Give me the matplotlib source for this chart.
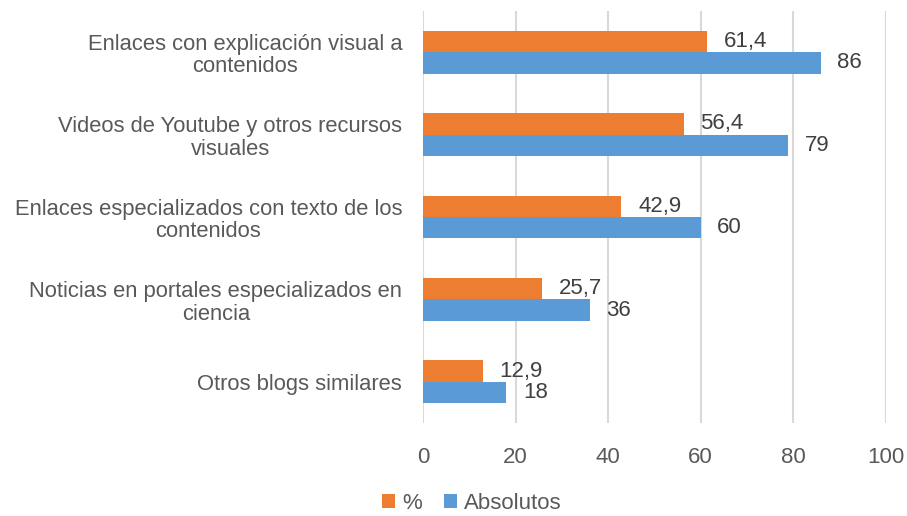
import numpy as np
import matplotlib.pyplot as plt

categorias = [
    "Enlaces con explicación visual a\ncontenidos",
    "Videos de Youtube y otros recursos\nvisuales",
    "Enlaces especializados con texto de los\ncontenidos",
    "Noticias en portales especializados en\nciencia",
    "Otros blogs similares",
]
porcentaje = [61.4, 56.4, 42.9, 25.7, 12.9]
absolutos = [86, 79, 60, 36, 18]
xticks = [0, 20, 40, 60, 80, 100]

plt.rcParams['font.family'] = ['Liberation Sans', 'DejaVu Sans']
gris = "#595959"

fig = plt.figure(figsize=(9.07, 5.16), dpi=100)
ax = fig.add_axes([0.4664, 0.1802, 0.5099, 0.7985])

y = np.arange(len(categorias))
h = 0.26
b1 = ax.barh(y - h / 2, porcentaje, height=h, color="#ED7D31", label="%", zorder=3)
b2 = ax.barh(y + h / 2, absolutos, height=h, color="#5B9BD5", label="Absolutos", zorder=3)

fmt = lambda v: f"{v:.1f}".replace(".", ",") if v % 1 else f"{v:.0f}"
for bars, vals in [(b1, porcentaje), (b2, absolutos)]:
    for rect, v in zip(bars, vals):
        ax.annotate(fmt(v), (rect.get_width(), rect.get_y() + rect.get_height() / 2),
                    xytext=(12, 0), textcoords="offset points",
                    ha="left", va="center", fontsize=16, color="#404040")

ax.set_xlim(0, 100)
ax.set_ylim(len(categorias) - 0.5, -0.5)
ax.set_xticks(xticks)
ax.set_yticks(y)
ax.set_yticklabels(categorias, fontsize=15.8, color=gris, multialignment="center",
                   linespacing=1.1)
ax.tick_params(axis="x", labelsize=16, colors=gris, length=0, pad=17)
ax.tick_params(axis="y", length=0, pad=15)
ax.grid(axis="x", color="#D9D9D9", linewidth=1.5, zorder=0)
for s in ax.spines.values():
    s.set_visible(False)

fig.legend(loc="lower center", bbox_to_anchor=(0.52, -0.035), ncol=2, frameon=False,
           fontsize=16, labelcolor=gris, handlelength=0.6, handleheight=0.6,
           handletextpad=0.3, columnspacing=1.0)

fig.savefig("out.png", dpi=100)
